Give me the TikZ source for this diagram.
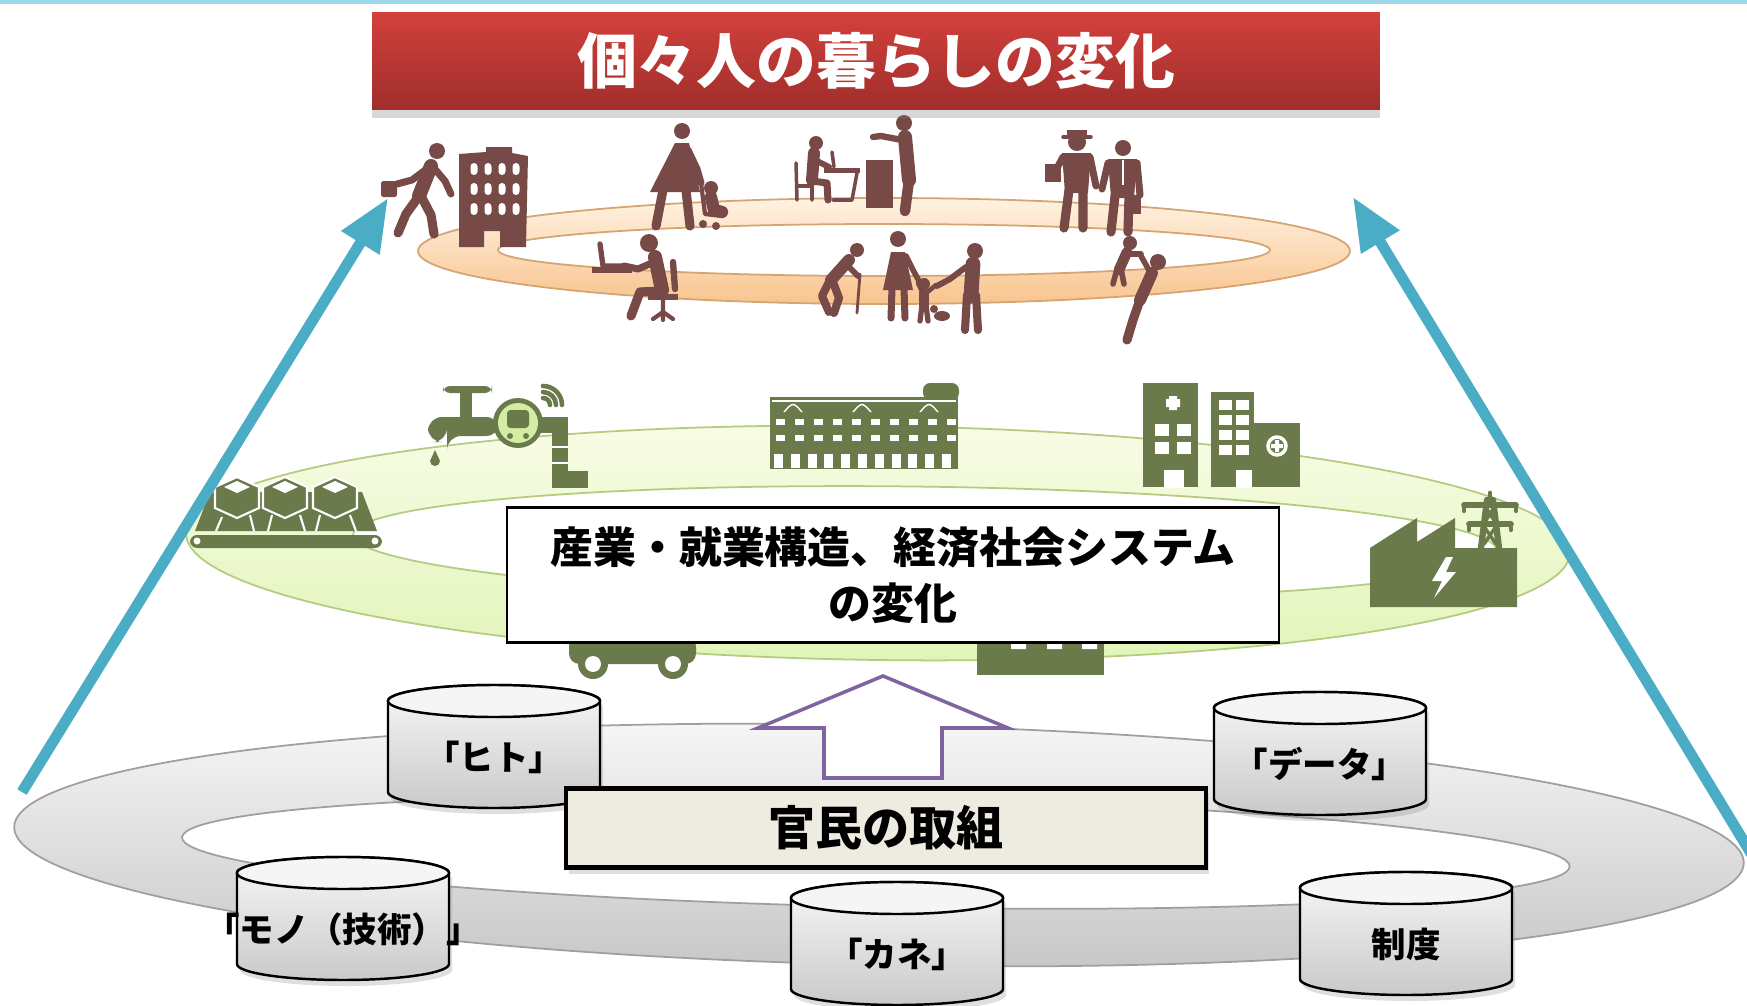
\documentclass[tikz,border=0pt]{standalone}
\usepackage{fontspec}
\setmainfont{Noto Sans CJK JP}
\usetikzlibrary{arrows.meta,shadows}

\definecolor{topline}{HTML}{9ED8E9}
\definecolor{titletop}{HTML}{D2403B}
\definecolor{titlebot}{HTML}{A02E2C}
\definecolor{lifebrown}{HTML}{774A48}
\definecolor{bizgreen}{HTML}{6B7A4B}
\definecolor{meterlight}{HTML}{D4ECA4}
\definecolor{arrowblue}{HTML}{4BACC6}
\definecolor{upviolet}{HTML}{8064A2}
\definecolor{boxbeige}{HTML}{EEEBE0}
\definecolor{lifetop}{HTML}{FFF2E2}
\definecolor{lifebot}{HTML}{F8C48E}
\definecolor{lifeline}{HTML}{D6A470}
\definecolor{biztop}{HTML}{F8FCE6}
\definecolor{bizbot}{HTML}{E2F4B8}
\definecolor{bizline}{HTML}{B3CC80}
\definecolor{basetop}{HTML}{F7F7F7}
\definecolor{basebot}{HTML}{C6C6C6}

\tikzset{
  limb/.style={line width=#1, line cap=round, line join=round},
  titlebar/.style={minimum width=10.07cm, minimum height=0.96cm, inner sep=0pt,
    top color=titletop, bottom color=titlebot, text=white,
    font=\bfseries\fontsize{17}{20}\selectfont,
    drop shadow={opacity=0.3, shadow xshift=0pt, shadow yshift=-0.9mm}},
  changebox/.style={draw=black, line width=0.6pt, fill=white, align=center,
    minimum width=7.72cm, minimum height=1.35cm, inner sep=0pt,
    font=\bfseries\fontsize{12.2}{15.9}\selectfont},
  effortbox/.style={draw=black, line width=1.2pt, fill=boxbeige,
    minimum width=6.4cm, minimum height=0.79cm, inner sep=0pt,
    font=\bfseries\fontsize{13.4}{16}\selectfont,
    drop shadow={opacity=0.25, shadow xshift=0.3mm, shadow yshift=-0.6mm}},
  drumlabel/.style={font=\bfseries\fontsize{9.8}{12}\selectfont, inner sep=0pt},
  risearrow/.style={draw=arrowblue, line width=3.1pt,
    -{Triangle[length=15pt, width=12pt]}},
}

%% one resource drum: name, centre x, top y, label
\newcommand{\drum}[4]{%
  \shade[top color=gray!6, bottom color=gray!42, draw=black, line width=0.7pt,
    drop shadow={opacity=0.25, shadow xshift=0.3mm, shadow yshift=-0.6mm}]
    (#2-106,#3+16) -- (#2-106,#3+107)
    arc[start angle=180, end angle=0, x radius=106, y radius=16]
    -- (#2+106,#3+16)
    arc[start angle=0, end angle=-180, x radius=106, y radius=16] -- cycle;
  \draw[fill=gray!8, line width=0.7pt] (#2,#3+16) ellipse (106 and 16);
  \node[drumlabel] (#1) at (#2,#3+72) {#4};
}

\begin{document}
\begin{tikzpicture}[x=0.01cm, y=-0.01cm]
\useasboundingbox (0,0) rectangle (1747,1006);
\fill[white] (0,0) rectangle (1747,1006);
\fill[topline] (0,0) rectangle (1747,4);

%% base ring and resources
\path[even odd rule, top color=basetop, bottom color=basebot, draw=gray!75,
  line width=0.5pt, rotate around={-1.2:(879,845)}]
  (879,845) ellipse (865 and 120) (876,852) ellipse (694 and 55);

\drum{hito}{494}{685}{「ヒト」}
\drum{data}{1320}{692}{「データ」}
\drum{mono}{343}{857}{「モノ（技術）」}
\drum{kane}{897}{882}{「カネ」}
\drum{seido}{1406}{872}{制度}

\draw[draw=upviolet, line width=1pt, fill=white, line join=miter]
  (824,778) -- (824,728) -- (758,728) -- (883,676) -- (1008,728)
  -- (942,728) -- (942,778) -- cycle;

\node[effortbox] (effort) at (886,828) {官民の取組};

%% middle ring: industry
\path[even odd rule, top color=biztop, bottom color=bizbot, draw=bizline,
  line width=0.5pt, rotate around={-0.8:(878,543)}]
  (878,543) ellipse (692 and 117) (925,542) ellipse (572 and 56);

\begin{scope}[color=bizgreen]
%% conveyor
\fill[rounded corners=2pt] (190,535) rectangle (382,548);
\fill[white] (197,541) circle (3.5) (375,541) circle (3.5);
\fill (195,531) -- (210,492) -- (362,492) -- (377,531) -- cycle;
\draw[white, line width=0.6pt] (222,517) -- (216,531) (250,515) -- (254,531)
  (272,515) -- (268,531) (300,515) -- (305,531) (320,515) -- (316,531)
  (350,515) -- (356,531);
\foreach \cx in {237,285,335} {
  \filldraw[draw=white, line width=0.6pt] (\cx,477) -- (\cx+22,487) -- (\cx+22,508)
    -- (\cx,518) -- (\cx-22,508) -- (\cx-22,487) -- cycle;
  \fill[white] (\cx,481) -- (\cx+13,487) -- (\cx,493) -- (\cx-13,487) -- cycle;
}
%% tap and meter
\fill[rounded corners=2pt] (443,386) rectangle (492,393);
\fill (460,390) rectangle (472,418);
\fill[rounded corners=4pt] (428,442) -- (428,417) -- (500,417) -- (500,436)
  -- (447,436) -- (447,442) -- cycle;
\fill (435,450) -- (440,461) arc[start angle=0, end angle=180, radius=5] -- cycle;
\fill (518,423) circle (25);
\fill[meterlight] (518,423) circle (20);
\fill[rounded corners=1pt] (507,410) rectangle (529,428);
\fill (510,436) circle (3) (526,436) circle (3);
\fill (541,417) rectangle (568,433);
\fill (552,433) rectangle (568,488);
\fill (568,471) rectangle (588,488);
\draw[white, line width=0.6pt] (552,447) -- (568,447) (552,463) -- (568,463);
\foreach \r in {7,13,19}
  \draw[limb=1.3pt] (543,405-\r) arc[start angle=-90, end angle=0, radius=\r];
%% long building
\fill (770,397) rectangle (958,469);
\fill[rounded corners=2pt] (923,383) rectangle (959,400);
\draw[white, line width=0.4pt] (772,401) -- (956,401);
\foreach \ax in {793,862,929}
  \draw[white, line width=0.4pt] (\ax-9,412) .. controls (\ax,402) .. (\ax+9,412);
\foreach \i in {0,...,9} {
  \fill[white] (776+\i*19,419) rectangle ++(9,6);
  \fill[white] (776+\i*19,435) rectangle ++(9,6);
}
\foreach \i in {0,...,10}
  \fill[white] (774+\i*16.8,454) rectangle ++(9,14);
%% hospital
\fill (1143,383) rectangle (1198,487);
\fill (1211,392) rectangle (1254,487);
\fill (1254,423) rectangle (1300,487);
\fill[white] (1164,470) rectangle (1184,488);
\fill[white] (1236,470) rectangle (1252,488);
\fill[white] (1169,396) rectangle (1177,410) (1166,399) rectangle (1180,407);
\foreach \wx in {1155,1177} \foreach \wy in {424,442}
  \fill[white] (\wx,\wy) rectangle ++(14,12);
\foreach \wx in {1219,1236} \foreach \wy in {400,415,430,445}
  \fill[white] (\wx,\wy) rectangle ++(13,10);
\draw[white, line width=1pt] (1277,446) circle (9);
\fill[white] (1275,440) rectangle (1279,452) (1271,444) rectangle (1283,448);
%% power plant
\fill (1370,607) -- (1370,548) -- (1417,518) -- (1417,542) -- (1455,518)
  -- (1455,548) -- (1517,548) -- (1517,607) -- cycle;
\fill[white] (1446,557) -- (1432,581) -- (1442,581) -- (1434,598) -- (1456,572)
  -- (1446,572) -- (1453,557) -- cycle;
\draw[limb=1.8pt] (1481,548) -- (1487,500) -- (1493,500) -- (1499,548);
\draw[limb=1.6pt] (1464,505) -- (1516,505) (1469,524) -- (1511,524);
\draw[limb=1pt] (1485,528) -- (1496,544) (1495,528) -- (1484,544)
  (1486,508) -- (1494,520) (1494,508) -- (1486,520);
\draw[limb=1.4pt] (1490,500) -- (1490,493);
\draw[limb=1.2pt] (1464,505) -- (1464,511) (1516,505) -- (1516,511)
  (1469,524) -- (1469,530) (1511,524) -- (1511,530);
%% car and low building
\fill[rounded corners=3pt] (569,636) rectangle (696,664);
\fill (593,664) circle (15) (673,664) circle (15);
\fill[white] (593,664) circle (8) (673,664) circle (8);
\fill (977,636) rectangle (1104,675);
\fill[white] (1011,643) rectangle (1026,649) (1047,643) rectangle (1062,649)
  (1082,643) rectangle (1097,649);
\end{scope}

\node[changebox] (change) at (893,575) {産業・就業構造、経済社会システム\\の変化};

%% top ring: daily life
\path[even odd rule, top color=lifetop, bottom color=lifebot, draw=lifeline,
  line width=0.5pt]
  (884,251) ellipse (466 and 53) (884,250) ellipse (386 and 26);

\begin{scope}[color=lifebrown]
%% commuter
\fill (437,151) circle (8);
\draw[limb=4pt] (431,166) -- (419,196);
\draw[limb=2.6pt] (419,196) -- (406,214) -- (398,233);
\draw[limb=2.6pt] (421,196) -- (431,215) -- (434,234);
\draw[limb=2pt] (428,168) -- (412,180) -- (397,184);
\draw[limb=2pt] (434,168) -- (445,181) -- (451,194);
\fill[rounded corners=0.5pt] (381,181) rectangle (397,197);
%% office
\fill (459,154) -- (486,152) -- (486,147) -- (512,147) -- (512,153) -- (528,156)
  -- (526,247) -- (500,247) -- (500,231) -- (484,231) -- (484,247) -- (459,247) -- cycle;
\foreach \wx in {474,488,502,516} \foreach \wy in {169,189,209}
  \fill[white, rounded corners=1pt] (\wx-3.5,\wy-6) rectangle (\wx+3.5,\wy+6);
%% mother with pushchair
\fill (682,131) circle (8);
\fill (675,143) -- (689,143) -- (700,192) -- (650,192) -- cycle;
\draw[limb=2.6pt] (663,190) -- (656,226) (686,190) -- (690,226);
\draw[limb=2pt] (688,150) -- (697,169) -- (701,183);
\fill (711,188) circle (7);
\draw[limb=3.5pt] (711,197) -- (714,210) -- (722,212);
\draw[limb=1.2pt] (701,183) -- (705,214) -- (722,216);
\fill (703,224) circle (4) (716,226) circle (4);
%% laptop worker
\fill (649,243) circle (9);
\draw[limb=4pt] (655,257) -- (662,290);
\draw[limb=2pt] (652,263) -- (638,269) -- (624,266);
\fill (592,267) rectangle (632,273);
\draw[limb=1.5pt] (600,244) -- (603,266) -- (622,266);
\draw[limb=2.6pt] (661,291) -- (640,292) -- (631,316);
\draw[limb=1.8pt] (673,262) -- (675,289);
\fill (648,294) rectangle (678,300);
\draw[limb=1.2pt] (663,300) -- (663,312) (653,319) -- (663,312) -- (673,319)
  (663,312) -- (663,320);
%% pupil and teacher
\fill (816,143) circle (7);
\draw[limb=3.4pt] (814,153) -- (812,180);
\draw[limb=1.7pt] (815,160) -- (829,167);
\draw[limb=2pt] (812,181) -- (827,183) -- (828,200);
\draw[limb=1pt] (796,163) -- (797,200) (797,186) -- (812,186) -- (812,200);
\fill (824,168) rectangle (860,173);
\draw[limb=1pt] (857,173) -- (852,200) -- (833,200);
\draw[limb=1pt] (832,152) -- (834,167);
\fill (866,160) rectangle (893,208);
\fill (904,123) circle (8);
\draw[limb=4pt] (905,137) -- (909,180);
\draw[limb=3pt] (909,180) -- (905,211);
\draw[limb=1.8pt] (902,140) -- (881,136) -- (873,137);
%% elder with cane
\fill (857,250) circle (7);
\draw[limb=3.4pt] (849,260) -- (831,280);
\draw[limb=2.3pt] (830,280) -- (822,296) -- (829,312);
\draw[limb=2.3pt] (833,282) -- (839,298) -- (834,313);
\draw[limb=1.7pt] (846,264) -- (858,276);
\draw[limb=0.8pt] (860,274) -- (857,313);
%% family
\fill (898,239) circle (8);
\fill (891,252) -- (905,252) -- (913,290) -- (883,290) -- cycle;
\draw[limb=2pt] (892,288) -- (891,318) (904,288) -- (905,318);
\draw[limb=1.6pt] (906,256) -- (913,270) -- (919,281);
\fill (924,284) circle (6);
\draw[limb=2.6pt] (924,293) -- (924,306);
\draw[limb=1.5pt] (922,305) -- (920,321) (926,305) -- (928,321);
\draw[limb=1.3pt] (923,294) -- (918,283) (925,294) -- (936,285);
\fill (975,251) circle (8);
\draw[limb=4.2pt] (973,264) -- (971,296);
\draw[limb=2.3pt] (967,295) -- (965,330) (976,295) -- (978,330);
\draw[limb=1.7pt] (966,267) -- (950,279) -- (937,286);
\fill (942,316) ellipse (8 and 5) (934,309) circle (4);
%% two in suits
\fill (1077,142) circle (9);
\fill (1067,130) rectangle (1087,137);
\draw[limb=1pt] (1063,137) -- (1091,137);
\fill (1062,153) -- (1091,153) -- (1088,193) -- (1065,193) -- cycle;
\draw[limb=2.6pt] (1069,190) -- (1064,228) (1083,190) -- (1083,228);
\draw[limb=2pt] (1063,157) -- (1056,170);
\fill (1045,164) rectangle (1061,182);
\draw[limb=2pt] (1090,157) -- (1096,186);
\fill (1123,148) circle (8);
\fill (1108,159) -- (1137,159) -- (1134,198) -- (1111,198) -- cycle;
\draw[white, line width=0.6pt] (1123,160) -- (1123,185);
\draw[limb=2.6pt] (1115,196) -- (1111,232) (1129,196) -- (1128,232);
\draw[limb=2pt] (1108,163) -- (1102,189) (1137,163) -- (1140,195);
\fill (1131,195) rectangle (1141,214);
%% helping hand
\fill (1130,243) circle (7);
\draw[limb=3pt] (1127,252) -- (1119,270);
\draw[limb=1.6pt] (1117,269) -- (1113,284) (1121,269) -- (1124,284);
\draw[limb=1.6pt] (1128,254) -- (1141,254);
\fill (1158,262) circle (8);
\draw[limb=3.4pt] (1152,273) -- (1140,300);
\draw[limb=2.6pt] (1140,300) -- (1133,320) -- (1127,340);
\draw[limb=1.6pt] (1150,272) -- (1141,256);
\end{scope}

%% heading
\node[titlebar] (title) at (876,61) {個々人の暮らしの変化};

%% rising arrows
\coordinate (lefttail) at (22,792);
\coordinate (lefthead) at (388,198);
\coordinate (righttail) at (1760,868);
\coordinate (righthead) at (1353,197);
\draw[risearrow] (lefttail) -- (lefthead);
\draw[risearrow] (righttail) -- (righthead);

\end{tikzpicture}
\end{document}
